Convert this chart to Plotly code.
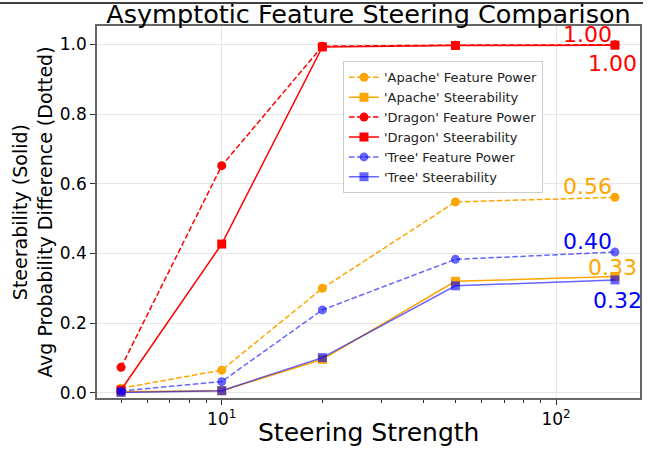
import math
import plotly.graph_objects as go

# Steering strengths (log-scaled x axis)
strengths = [5, 10, 20, 50, 150]

# Feature power (dashed, circles) and steerability (solid, squares) per feature
apache_power = [0.013, 0.065, 0.300, 0.548, 0.561]
apache_steer = [0.003, 0.006, 0.096, 0.320, 0.334]
dragon_power = [0.073, 0.652, 0.995, 0.998, 0.999]
dragon_steer = [0.008, 0.427, 0.993, 0.997, 0.998]
tree_power = [0.005, 0.032, 0.238, 0.383, 0.404]
tree_steer = [0.001, 0.006, 0.101, 0.307, 0.324]

x_tick_vals = [10, 100]
x_tick_text = ["10<sup>1</sup>", "10<sup>2</sup>"]
y_tick_vals = [0.0, 0.2, 0.4, 0.6, 0.8, 1.0]

FONT = "DejaVu Sans"
ORANGE = "#FFA500"
RED = "#FF0000"
BLUE_LINE = "rgba(0,0,255,0.6)"
BLUE_TEXT = "#0000FF"
DASH = "5.5px,2.5px"

series = [
    ("'Apache' Feature Power", apache_power, ORANGE, DASH, "circle"),
    ("'Apache' Steerability", apache_steer, ORANGE, "solid", "square"),
    ("'Dragon' Feature Power", dragon_power, RED, DASH, "circle"),
    ("'Dragon' Steerability", dragon_steer, RED, "solid", "square"),
    ("'Tree' Feature Power", tree_power, BLUE_LINE, DASH, "circle"),
    ("'Tree' Steerability", tree_steer, BLUE_LINE, "solid", "square"),
]

fig = go.Figure()
for name, vals, color, dash, symbol in series:
    fig.add_trace(go.Scatter(
        x=strengths, y=vals, name=name, mode="lines+markers",
        line=dict(color=color, width=1.5, dash=dash),
        marker=dict(symbol=symbol, size=9, color=color, line=dict(width=0)),
    ))

# End-point value labels: (values, colour, xanchor, xshift, yshift)
end_labels = [
    (dragon_power, RED, "right", -1, 10),
    (dragon_steer, RED, "center", -2, -18),
    (apache_power, ORANGE, "right", -1, 11),
    (apache_steer, ORANGE, "center", -2, 9),
    (tree_power, BLUE_TEXT, "right", -1, 11),
    (tree_steer, BLUE_TEXT, "center", 3, -21),
]
annotations = []
for vals, color, xa, xs, ys in end_labels:
    annotations.append(dict(
        # annotations on a log axis take the exponent as their x position
        x=math.log10(strengths[-1]), y=vals[-1], xref="x", yref="y",
        text=f"{vals[-1]:.2f}", showarrow=False,
        xanchor=xa, yanchor="middle", xshift=xs, yshift=ys,
        font=dict(family=FONT, size=22, color=color),
    ))

# Axis titles
annotations.append(dict(
    x=0.5, y=-0.094, xref="paper", yref="paper", yanchor="middle",
    text="Steering Strength", showarrow=False,
    font=dict(family=FONT, size=25, color="black"),
))
annotations.append(dict(
    x=-0.12, y=0.5, xref="paper", yref="paper", xanchor="center", yanchor="middle",
    text="Steerability (Solid)<br>Avg Probability Difference (Dotted)",
    textangle=-90, showarrow=False,
    font=dict(family=FONT, size=19, color="black"),
))

fig.update_layout(
    width=656, height=450,
    margin=dict(l=97, r=16, t=26, b=52),
    paper_bgcolor="white", plot_bgcolor="white",
    font=dict(family=FONT, color="black"),
    title=dict(
        text="Asymptotic Feature Steering Comparison",
        x=0.5, xref="paper", xanchor="center",
        y=0.968, yref="container", yanchor="middle",
        font=dict(family=FONT, size=25.5, color="black"),
    ),
    legend=dict(
        x=0.453, y=0.905, xanchor="left", yanchor="top",
        bgcolor="white", bordercolor="#cccccc", borderwidth=1,
        font=dict(family=FONT, size=13, color="#222222"),
        tracegroupgap=0,
    ),
    annotations=annotations,
    shapes=[dict(
        type="line", xref="paper", yref="paper",
        x0=-0.1786, x1=1.0055, y0=1.0618, y1=1.0618,
        line=dict(color="black", width=1.5),
    )],
    showlegend=True,
)

fig.update_xaxes(
    type="log", range=[0.627, 2.251],
    tickvals=x_tick_vals, ticktext=x_tick_text,
    ticks="outside", ticklen=5, tickcolor="#333333",
    tickfont=dict(family=FONT, size=17, color="black"),
    showgrid=True, gridcolor="#e6e6e6", gridwidth=1,
    showline=True, linecolor="#666666", linewidth=1.5, mirror=True,
    minor=dict(ticks="outside", ticklen=3, tickcolor="#333333", dtick="D1", showgrid=False),
    zeroline=False,
)
fig.update_yaxes(
    range=[-0.015, 1.053],
    tickvals=y_tick_vals, tickformat=".1f",
    ticks="outside", ticklen=5, tickcolor="#333333",
    tickfont=dict(family=FONT, size=17, color="black"),
    showgrid=True, gridcolor="#e6e6e6", gridwidth=1,
    showline=True, linecolor="#666666", linewidth=1.5, mirror=True,
    zeroline=False,
)

fig.write_html("out.html")
